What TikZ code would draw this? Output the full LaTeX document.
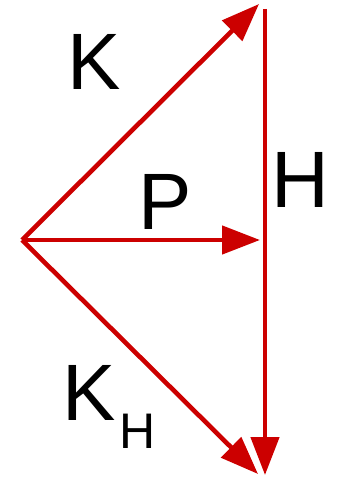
\documentclass[tikz,border=0pt]{standalone}
\usepackage{fontspec}
\setmainfont{Liberation Sans}
\usepackage{tikz}
\usetikzlibrary{arrows.meta, positioning}
\definecolor{vecred}{RGB}{204,0,0}

\begin{document}
\begin{tikzpicture}[
    x=1pt, y=-1pt,
    vec/.style={-{Triangle[length=38pt, width=28pt]}, draw=vecred, line width=4.6pt},
    lbl/.style={inner sep=0pt, font=\fontsize{80}{80}\selectfont}
]
\useasboundingbox (0,0) rectangle (337,478);

\coordinate (origin) at (22,240);
\coordinate (ktip) at (259,4);
\coordinate (ptip) at (260,240);
\coordinate (khtip) at (258,474);
\coordinate (htop) at (265,9);
\coordinate (hbot) at (265,475);

\draw[vec] (origin) -- (ktip);
\draw[vec] (origin) -- (ptip);
\draw[vec] (origin) -- (khtip);
\draw[vec] (htop) -- (hbot);

\node[lbl] (k) at (94,62) {K};
\node[lbl] (p) at (165,202) {P};
\node[lbl] (h) at (300,180) {H};
\node[lbl, anchor=base west] (kh) at (62,420) {K\kern4pt\raisebox{-28pt}{\fontsize{50}{50}\selectfont H}};
\end{tikzpicture}
\end{document}
